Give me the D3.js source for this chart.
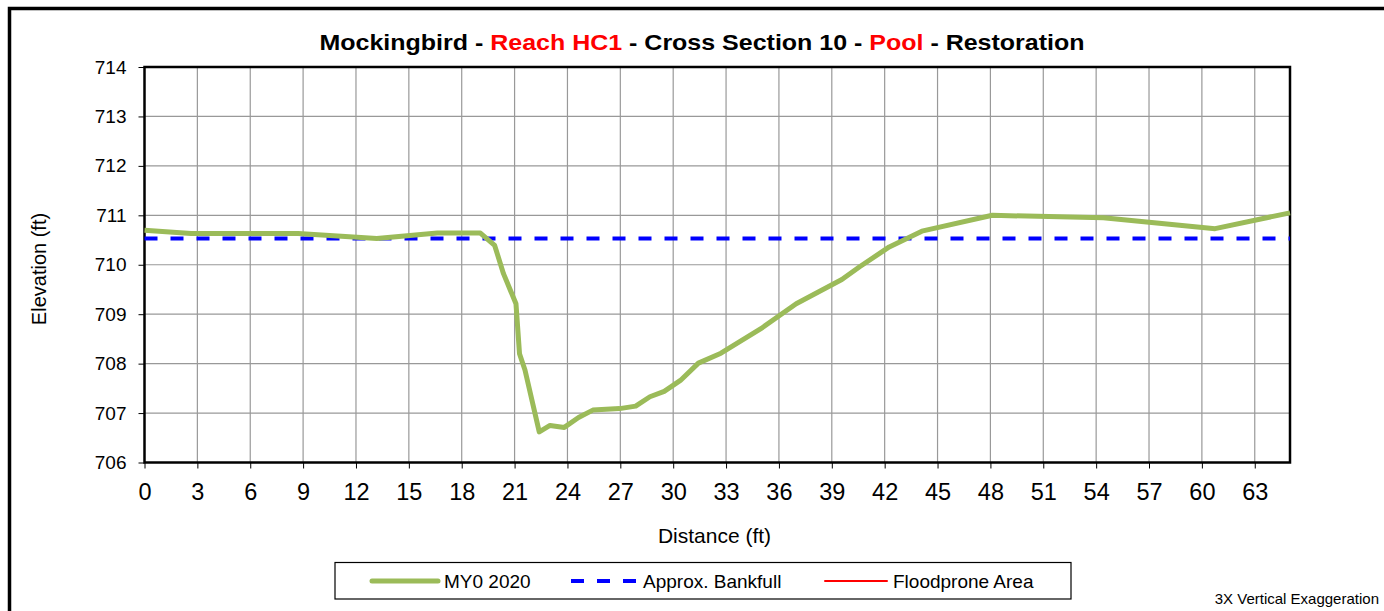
<!DOCTYPE html>
<html>
<head>
<meta charset="utf-8">
<script src="https://cdn.jsdelivr.net/npm/d3@7"></script>
<style>
  html, body { margin: 0; padding: 0; background: #fff; }
  svg { display: block; }
  text { font-family: "Liberation Sans", Arial, sans-serif; }
</style>
</head>
<body>
<svg id="chart" width="1384" height="611"></svg>
<script>
// ---- data ----
const station = [0, 2.64, 8.72, 13.18, 16.62, 19.06, 19.87, 20.37, 21.08, 21.28, 21.59, 22.40, 23.01, 23.82, 24.63, 25.44, 26.96, 27.87, 28.68, 29.49, 30.41, 31.43, 32.71, 35.07, 36.98, 39.57, 40.58, 42.26, 44.11, 48.11, 54.41, 60.75, 65.0];
const elevation = [710.70, 710.63, 710.63, 710.53, 710.64, 710.64, 710.39, 709.82, 709.21, 708.20, 707.87, 706.62, 706.75, 706.71, 706.91, 707.06, 707.09, 707.14, 707.33, 707.44, 707.66, 708.01, 708.21, 708.73, 709.21, 709.70, 709.96, 710.36, 710.68, 711.00, 710.95, 710.73, 711.05];
const bankfullStation = [0, 65];
const bankfullElevation = [710.53, 710.53];
const floodproneStation = [];
const floodproneElevation = [];
const xTicks = [0, 3, 6, 9, 12, 15, 18, 21, 24, 27, 30, 33, 36, 39, 42, 45, 48, 51, 54, 57, 60, 63];
const yTicks = [706, 707, 708, 709, 710, 711, 712, 713, 714];
const titleParts = [
  {t: "Mockingbird - ", c: "#000"},
  {t: "Reach HC1", c: "#ff0000"},
  {t: " - Cross Section 10 - ", c: "#000"},
  {t: "Pool", c: "#ff0000"},
  {t: " - Restoration", c: "#000"}
];
const legendItems = [
  {name: "MY0 2020", color: "#9bbb59", width: 5, dash: null},
  {name: "Approx. Bankfull", color: "#0000ff", width: 4, dash: "13,13"},
  {name: "Floodprone Area", color: "#ff0000", width: 2, dash: null}
];

// ---- layout ----
const svg = d3.select("#chart");
const L = 144.5, R = 1290, T = 67, B = 462.5;
const x = d3.scaleLinear().domain([0, 65]).range([L, R]);
const y = d3.scaleLinear().domain([706, 714]).range([B, T]);

// outer frame
svg.append("rect").attr("x", 9.5).attr("y", 8.5).attr("width", 1420).attr("height", 720)
  .attr("fill", "none").attr("stroke", "#000").attr("stroke-width", 3.5);

// grid
const grid = svg.append("g");
grid.selectAll("line.v").data(xTicks.filter(d => d > 0)).join("line")
  .attr("x1", d => x(d)).attr("x2", d => x(d)).attr("y1", T).attr("y2", B)
  .attr("stroke", "#999").attr("stroke-width", 1.2);
grid.selectAll("line.h").data(yTicks.filter(d => d > 706 && d < 714)).join("line")
  .attr("x1", L).attr("x2", R).attr("y1", d => y(d)).attr("y2", d => y(d))
  .attr("stroke", "#999").attr("stroke-width", 1.2);

// axes
const xAxis = d3.axisBottom(x).tickValues(xTicks).tickSize(6).tickSizeOuter(0).tickPadding(15);
const gx = svg.append("g").attr("transform", `translate(0,${B})`).call(xAxis);
gx.select(".domain").remove();
gx.selectAll("line").attr("stroke", "#000").attr("stroke-width", 1);
gx.selectAll("text").attr("font-size", 23.5).attr("fill", "#000")
  .attr("font-family", "'Liberation Sans', Arial, sans-serif");

const yAxis = d3.axisLeft(y).tickValues(yTicks).tickSize(6).tickSizeOuter(0).tickPadding(12);
const gy = svg.append("g").attr("transform", `translate(${L},0)`).call(yAxis);
gy.select(".domain").remove();
gy.selectAll("line").attr("stroke", "#000").attr("stroke-width", 1);
gy.selectAll("text").attr("font-size", 19).attr("fill", "#000")
  .attr("font-family", "'Liberation Sans', Arial, sans-serif");

// plot border
svg.append("rect").attr("x", L).attr("y", T).attr("width", R - L).attr("height", B - T)
  .attr("fill", "none").attr("stroke", "#000").attr("stroke-width", 2.5);

// series
const line = d3.line().x(d => x(d[0])).y(d => y(d[1]));
svg.append("path").datum(d3.zip(bankfullStation, bankfullElevation))
  .attr("d", line).attr("fill", "none").attr("stroke", "#0000ff")
  .attr("stroke-width", 4).attr("stroke-dasharray", "13,13");
svg.append("path").datum(d3.zip(station, elevation))
  .attr("d", line).attr("fill", "none").attr("stroke", "#9bbb59")
  .attr("stroke-width", 5).attr("stroke-linejoin", "round");
if (floodproneStation.length) {
  svg.append("path").datum(d3.zip(floodproneStation, floodproneElevation))
    .attr("d", line).attr("fill", "none").attr("stroke", "#ff0000").attr("stroke-width", 2);
}

// title
const title = svg.append("text").attr("x", 702).attr("y", 50).attr("text-anchor", "middle")
  .attr("font-size", 22).attr("font-weight", "bold")
  .attr("textLength", 765).attr("lengthAdjust", "spacingAndGlyphs");
titleParts.forEach(p => title.append("tspan").attr("fill", p.c).text(p.t));

// axis titles
svg.append("text").attr("x", 714.5).attr("y", 543).attr("text-anchor", "middle")
  .attr("font-size", 21).attr("fill", "#000").text("Distance (ft)");
svg.append("text").attr("transform", "translate(46,269) rotate(-90)").attr("text-anchor", "middle")
  .attr("font-size", 20).attr("fill", "#000").text("Elevation (ft)");

// legend
const lg = svg.append("g");
lg.append("rect").attr("x", 335).attr("y", 562.5).attr("width", 736).attr("height", 36.5)
  .attr("fill", "#fff").attr("stroke", "#000").attr("stroke-width", 1.2);
const legX = [372, 571, 825];
const legLen = [66, 66, 62];
legendItems.forEach((it, i) => {
  lg.append("line").attr("x1", legX[i]).attr("x2", legX[i] + legLen[i])
    .attr("y1", 581).attr("y2", 581).attr("stroke", it.color).attr("stroke-width", it.width)
    .attr("stroke-dasharray", it.dash).attr("stroke-linecap", it.dash ? "butt" : "round");
  lg.append("text").attr("x", legX[i] + legLen[i] + 6).attr("y", 588)
    .attr("font-size", 19).attr("fill", "#000").text(it.name);
});

// note
svg.append("text").attr("x", 1379).attr("y", 604).attr("text-anchor", "end")
  .attr("font-size", 15).attr("fill", "#000").text("3X Vertical Exaggeration");
</script>
</body>
</html>
